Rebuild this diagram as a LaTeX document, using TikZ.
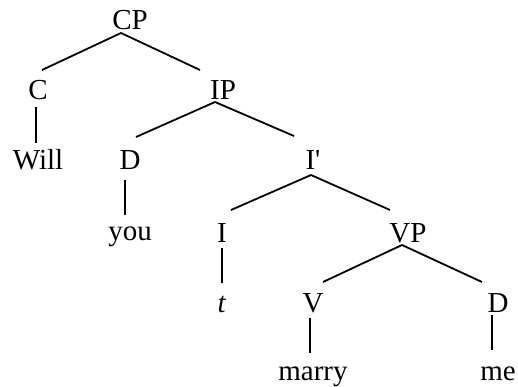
\documentclass[tikz,border=0pt]{standalone}
\usepackage{fontspec}
\setmainfont{Liberation Serif}
\usepackage{tikz}

\begin{document}
\begin{tikzpicture}[x=1pt,y=-1pt,line width=1.8pt,
    lbl/.style={anchor=base,inner sep=0pt,outer sep=0pt,
      font=\fontsize{29}{31}\selectfont}]
    % y runs downwards, units in pt
    \useasboundingbox (0,0) rectangle (518,387);

    % Вузли дерева (базова лінія тексту)
    \node[lbl] (CP) at (130,30) {CP};
    \node[lbl] (C) at (38,100) {C};
    \node[lbl] (IP) at (223,100) {IP};
    \node[lbl] (Will) at (38,170) {Will};
    \node[lbl] (Dyou) at (130,170) {D};
    \node[lbl] (Ibar) at (313,170) {I\textquotesingle};
    \node[lbl] (you) at (130,240) {you};
    \node[lbl] (I) at (222,242) {I};
    \node[lbl] (VP) at (408,242) {VP};
    \node[lbl] (t) at (222,312) {\textit{t}};
    \node[lbl] (V) at (313,312) {V};
    \node[lbl] (Dme) at (498,312) {D};
    \node[lbl] (marry) at (313,380) {marry};
    \node[lbl] (me) at (498,380) {me};

    % CP
    \draw ([shift={(-9,3)}]CP.base) -- ([shift={(4,-30)}]C.base);
    \draw ([shift={(-9,3)}]CP.base) -- ([shift={(-23,-30)}]IP.base);
    \draw ([shift={(-2,7)}]C.base) -- ([shift={(-2,-27)}]Will.base);

    % IP
    \draw ([shift={(-8,2)}]IP.base) -- ([shift={(6,-33)}]Dyou.base);
    \draw ([shift={(-8,2)}]IP.base) -- ([shift={(-19,-34)}]Ibar.base);
    \draw ([shift={(-5,10)}]Dyou.base) -- ([shift={(-5,-25)}]you.base);

    % I'
    \draw ([shift={(-2,5)}]Ibar.base) -- ([shift={(9,-32)}]I.base);
    \draw ([shift={(-2,5)}]Ibar.base) -- ([shift={(-18,-32)}]VP.base);
    \draw ([shift={(0,6)}]I.base) -- ([shift={(0,-29)}]t.base);

    % VP
    \draw ([shift={(-6,3)}]VP.base) -- ([shift={(10,-30)}]V.base);
    \draw ([shift={(-6,3)}]VP.base) -- ([shift={(-16,-30)}]Dme.base);
    \draw ([shift={(-3,6)}]V.base) -- ([shift={(-3,-27)}]marry.base);
    \draw ([shift={(-6,3)}]Dme.base) -- ([shift={(-6,-30)}]me.base);
\end{tikzpicture}
\end{document}
